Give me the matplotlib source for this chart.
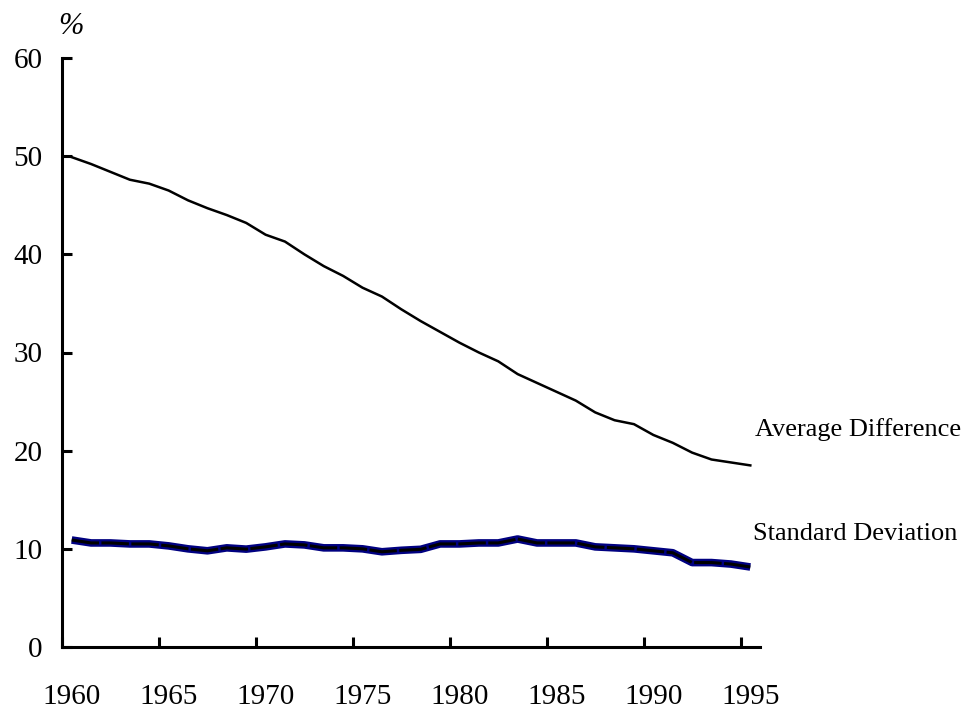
import numpy as np
import matplotlib
matplotlib.use("Agg")
from matplotlib import pyplot as plt

# Data
years = list(range(1960, 1996))
average_difference = [49.9, 49.2, 48.4, 47.6, 47.2, 46.5, 45.5, 44.7, 44.0, 43.2,
                      42.0, 41.3, 40.0, 38.8, 37.8, 36.6, 35.7, 34.4, 33.2, 32.1,
                      31.0, 30.0, 29.1, 27.8, 26.9, 26.0, 25.1, 23.9, 23.1, 22.7,
                      21.6, 20.8, 19.8, 19.1, 18.8, 18.5]
standard_deviation = [10.9, 10.6, 10.6, 10.5, 10.5, 10.3, 10.0, 9.8, 10.1, 9.97,
                      10.2, 10.5, 10.4, 10.1, 10.1, 10.0, 9.7, 9.85, 9.95, 10.5,
                      10.5, 10.6, 10.6, 11.0, 10.6, 10.6, 10.6, 10.2, 10.1, 10.0,
                      9.8, 9.6, 8.6, 8.6, 8.45, 8.15]
tick_years = [1960, 1965, 1970, 1975, 1980, 1985, 1990, 1995]

plt.rcParams["font.family"] = ["Liberation Serif", "DejaVu Serif"]

fig = plt.figure(figsize=(9.68, 7.13), dpi=100)
ax = fig.add_axes([62 / 968, 1 - 647 / 713, (760 - 62) / 968, (647 - 58) / 713])

# Excel style category axis: points in the middle of each year
x = np.array(years) + 0.5
ax.plot(x, average_difference, color="black", lw=1.8, solid_joinstyle="round")
ax.plot(x, standard_deviation, color="#000080", lw=5.5, solid_capstyle="butt")
ax.plot(x, standard_deviation, color="black", lw=2.2, dashes=(9, 0.8))

ax.set_xlim(1960, 1996)
ax.set_ylim(0, 60)

ax.spines["top"].set_visible(False)
ax.spines["right"].set_visible(False)
for s in ["left", "bottom"]:
    ax.spines[s].set_linewidth(2.2)

ax.set_yticks(range(0, 61, 10))
ax.tick_params(axis="y", direction="in", length=7, width=2.2, labelsize=21, pad=14)

ax.set_xticks(tick_years)
ax.set_xticklabels([])
ax.set_xticks([y + 0.5 for y in tick_years], minor=True)
ax.set_xticklabels([str(y) for y in tick_years], minor=True)
ax.tick_params(axis="x", which="major", direction="in", length=7, width=2.2)
ax.tick_params(axis="x", which="minor", length=0, labelsize=21, pad=27)

ax.text(1995.75, 22.2, "Average Difference", fontsize=19, va="center", ha="left",
        clip_on=False)
ax.text(1995.65, 11.5, "Standard Deviation", fontsize=19, va="center", ha="left",
        clip_on=False)

fig.text(71 / 968, 1 - 26 / 713, "%", fontsize=22, style="italic",
         ha="center", va="center")

fig.savefig("out.png", dpi=100)
